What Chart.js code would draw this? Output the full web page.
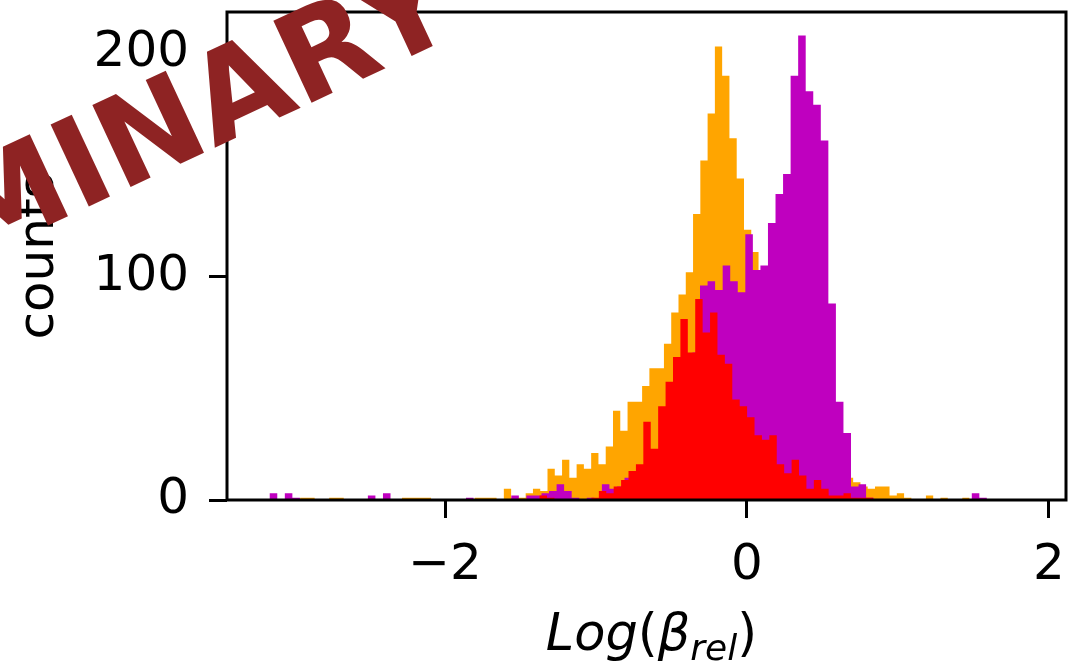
<!DOCTYPE html>
<html>
<head>
<meta charset="utf-8">
<script src="https://cdn.jsdelivr.net/npm/chart.js@4.4.1/dist/chart.umd.min.js"></script>
<style>
  html, body { margin: 0; padding: 0; background: #fff; }
  #wrap { width: 1073px; height: 664px; }
</style>
</head>
<body>
<div id="wrap"><canvas id="histChart" width="1073" height="664"></canvas></div>
<script>
// Histogram counts. Each sample was binned on its own grid,
// so every series has its own first bin edge and bin width.
const orangeStart = -2.960;
const orangeWidth = 0.0482;
const orangeCounts = [
    1, 1, 0, 0, 1, 1, 0, 0, 0, 0,
    0, 0, 0, 0, 1, 1, 1, 1, 0, 0,
    0, 0, 0, 0, 1, 1, 1, 0, 5, 1,
    1, 3, 5, 4, 14, 11, 18, 10, 16, 14,
    21, 16, 24, 40, 31, 44, 44, 51, 59, 59,
    70, 84, 92, 102, 128, 152, 173, 203, 190, 162,
    144, 121, 111, 95, 85, 75, 65, 55, 47, 40,
    33, 27, 22, 18, 14, 10, 8, 6, 5, 6,
    6, 2, 3, 1, 0, 0, 2, 0, 1, 0,
    0, 1
];

const magentaStart = -3.211;
const magentaWidth = 0.05;
const magentaCounts = [
    0, 3, 0, 3, 1, 0, 0, 0, 0, 0,
    0, 0, 0, 0, 2, 0, 3, 0, 0, 0,
    0, 0, 0, 0, 0, 0, 0, 1, 0, 0,
    0, 0, 0, 2, 0, 2, 2, 3, 4, 7,
    4, 1, 0, 1, 0, 7, 5, 6, 10, 12,
    15, 20, 22, 38, 48, 58, 64, 66, 96, 98,
    94, 105, 98, 93, 119, 103, 105, 124, 137, 146,
    190, 208, 183, 177, 161, 88, 44, 30, 6, 7,
    1, 0, 0, 0, 0, 0, 0, 0, 0, 0,
    0, 0, 0, 0, 3, 1
];

const redStart = -1.423;
const redWidth = 0.0491;
const redCounts = [
    0, 2, 1, 0, 0, 0, 0, 0, 1, 4,
    3, 6, 9, 13, 16, 35, 23, 42, 53, 64,
    81, 66, 90, 75, 84, 65, 61, 45, 42, 37,
    29, 27, 29, 16, 12, 18, 11, 5, 9, 5,
    2, 2, 3, 1, 1, 1
];

// axis ranges and tick labels
const xMin = -3.444;
const xMax = 2.113;
const yMin = 0;
const yMax = 218.5;
const xTicks = [-2, 0, 2];
const yTicks = [0, 100, 200];

const FONT = '"DejaVu Sans", "Liberation Sans", sans-serif';

// turn bin counts into step points (left edge of each bin, plus closing edge)
function toSteps(start, width, counts) {
    const pts = counts.map((c, i) => ({ x: start + i * width, y: c }));
    pts.push({ x: start + counts.length * width, y: 0 });
    return pts;
}

function fmtTick(v) {
    return v < 0 ? '\u2212' + Math.abs(v) : String(v);
}

// black box round the plot area, drawn over the bars like matplotlib spines
const frame = {
    id: 'frame',
    afterDatasetsDraw(chart) {
        const a = chart.chartArea;
        const ctx = chart.ctx;
        ctx.save();
        ctx.strokeStyle = '#000';
        ctx.lineWidth = 3;
        ctx.strokeRect(a.left, a.top, a.right - a.left, a.bottom - a.top);
        ctx.restore();
    }
};

// x axis label with subscript: Log(β_rel)
const xLabel = {
    id: 'xLabel',
    afterDraw(chart) {
        const ctx = chart.ctx;
        const a = chart.chartArea;
        const parts = [
            ['Log', 'italic 51px ' + FONT, 0],
            ['(', '51px ' + FONT, 0],
            ['\u03B2', 'italic 51px ' + FONT, 0],
            ['rel', 'italic 36px ' + FONT, 10],
            [')', '51px ' + FONT, 0]
        ];
        ctx.save();
        ctx.fillStyle = '#000';
        ctx.textBaseline = 'alphabetic';
        ctx.textAlign = 'left';
        let total = 0;
        parts.forEach(p => { ctx.font = p[1]; total += ctx.measureText(p[0]).width; });
        let x = (a.left + a.right) / 2 + 5 - total / 2;
        const base = 650;
        parts.forEach(p => {
            ctx.font = p[1];
            ctx.fillText(p[0], x, base + p[2]);
            x += ctx.measureText(p[0]).width;
        });
        ctx.restore();
    }
};

// PRELIMINARY stamp on top of everything
const watermark = {
    id: 'watermark',
    afterDraw(chart) {
        const ctx = chart.ctx;
        ctx.save();
        ctx.translate(463, 32);
        ctx.rotate(-25 * Math.PI / 180);
        ctx.font = 'bold 124px ' + FONT;
        ctx.fillStyle = '#8E2323';
        ctx.textAlign = 'right';
        ctx.textBaseline = 'alphabetic';
        ctx.fillText('PRELIMINARY', 0, 0);
        ctx.restore();
    }
};

function histSet(label, color, start, width, counts, order) {
    return {
        label: label,
        data: toSteps(start, width, counts),
        stepped: true,
        fill: 'origin',
        backgroundColor: color,
        borderColor: 'rgba(0,0,0,0)',
        borderWidth: 0,
        pointRadius: 0,
        order: order
    };
}

const ctx = document.getElementById('histChart').getContext('2d');
new Chart(ctx, {
    type: 'line',
    data: {
        datasets: [
            histSet('red', '#FF0000', redStart, redWidth, redCounts, 0),
            histSet('magenta', '#BF00BF', magentaStart, magentaWidth, magentaCounts, 1),
            histSet('orange', '#FFA500', orangeStart, orangeWidth, orangeCounts, 2)
        ]
    },
    options: {
        responsive: false,
        animation: false,
        devicePixelRatio: 1,
        layout: { padding: { left: 0, top: 12, right: 7, bottom: 0 } },
        plugins: {
            legend: { display: false },
            tooltip: { enabled: false }
        },
        scales: {
            x: {
                type: 'linear',
                min: xMin,
                max: xMax,
                afterBuildTicks: s => { s.ticks = xTicks.map(v => ({ value: v })); },
                afterFit: s => { s.height = 164; s.paddingLeft = 0; s.paddingRight = 0; },
                grid: { drawOnChartArea: false, drawTicks: true, tickLength: 18, tickWidth: 3, tickColor: '#000' },
                border: { display: false },
                ticks: {
                    color: '#000',
                    font: { family: FONT, size: 50 },
                    padding: 18,
                    maxRotation: 0,
                    callback: v => fmtTick(v)
                }
            },
            y: {
                min: yMin,
                max: yMax,
                afterBuildTicks: s => { s.ticks = yTicks.map(v => ({ value: v })); },
                afterFit: s => { s.width = 227; s.paddingTop = 0; s.paddingBottom = 0; },
                grid: { drawOnChartArea: false, drawTicks: true, tickLength: 18, tickWidth: 3, tickColor: '#000' },
                border: { display: false },
                ticks: {
                    color: '#000',
                    font: { family: FONT, size: 50 },
                    padding: 20,
                    callback: v => fmtTick(v)
                },
                title: {
                    display: true,
                    text: 'counts',
                    color: '#000',
                    font: { family: FONT, size: 50 },
                    padding: { top: 10, bottom: 0 }
                }
            }
        }
    },
    plugins: [frame, xLabel, watermark]
});
</script>
</body>
</html>
